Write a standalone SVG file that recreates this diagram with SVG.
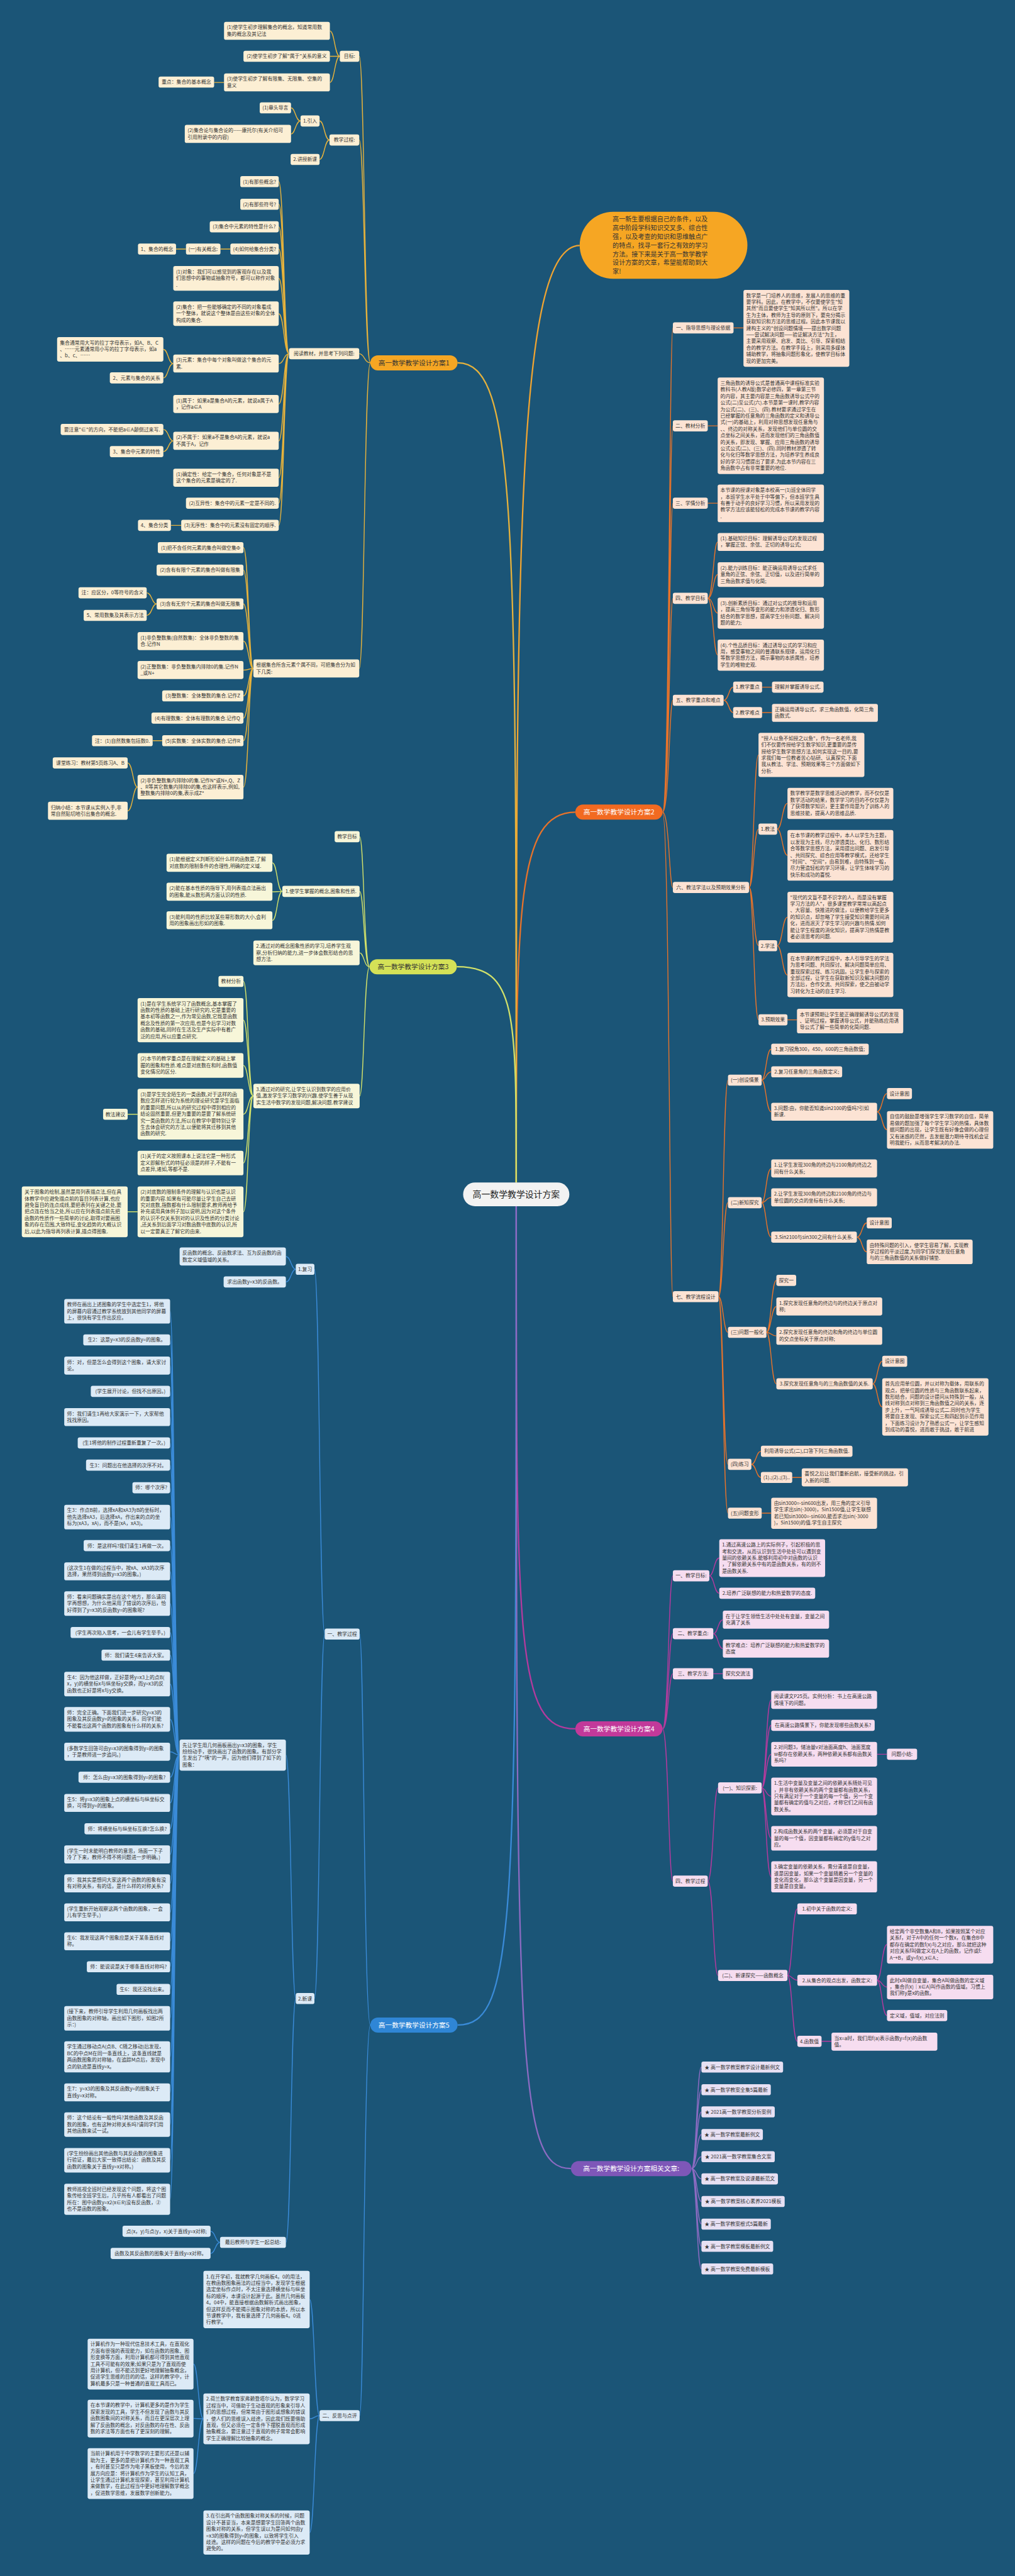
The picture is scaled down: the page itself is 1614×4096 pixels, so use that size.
<svg xmlns="http://www.w3.org/2000/svg" width="1614" height="4096" viewBox="0 0 1614 4096">
<style>
.t{font-family:"Noto Sans CJK SC","Noto Sans",sans-serif;font-size:12.5px;fill:#333}
.c{text-anchor:middle}
.big{font-family:"Noto Sans CJK SC","Noto Sans",sans-serif;font-size:17px;text-anchor:middle}
.o{fill:#FCE3D4}.g{fill:#FCEFD4}.y{fill:#F7F6D9}.b{fill:#DCEAF6}.m{fill:#F6DDF0}.p{fill:#E7E0F3}
.lo,.lg,.ly,.lb,.lm,.lp,.lt{fill:none;stroke-width:2.2}
.lo{stroke:#E8732A}.lg{stroke:#E6B23C}.ly{stroke:#D2E16A}.lb{stroke:#3A8BD8}.lm{stroke:#B53A9E}.lp{stroke:#8C6BC2}.lt{stroke:#F0A431}
.main{stroke-width:3.6}
</style>
<rect x="0" y="0" width="1614" height="4096" fill="#1B5577"/>
<g transform="scale(0.6305)">
<g id="connectors">
<path class="lt main" d="M1302,2982C1302,1400 1302,619 1462,619"/>
<path class="lo main" d="M1302,2982C1302,2300 1302,2048 1451,2048"/>
<path class="lg main" d="M1302,2982C1302,1300 1302,915 1154,915"/>
<path class="ly main" d="M1302,2982C1302,2550 1302,2438 1152,2438"/>
<path class="lm main" d="M1302,3042C1302,4150 1302,4360 1451,4360"/>
<path class="lb main" d="M1302,3042C1302,4850 1302,5107 1154,5107"/>
<path class="lp main" d="M1302,3042C1302,5200 1302,5469 1440,5469"/>
<path class="lo" d="M1671,2048C1688,2048 1688,827 1697,827M1671,2048C1688,2048 1688,1074 1697,1074M1671,2048C1688,2048 1688,1269 1697,1269M1671,2048C1688,2048 1688,1509 1697,1509M1671,2048C1688,2048 1688,1766 1697,1766M1671,2048C1688,2048 1688,2238 1697,2238M1671,2048C1688,2048 1688,3270 1697,3270"/>
<path class="lo" d="M1850,827H1875M1785,1074H1810M1785,1269H1810"/>
<path class="lo" d="M1785,1509C1799,1509 1799,1367 1810,1367M1785,1509C1799,1509 1799,1449 1810,1449M1785,1509C1799,1509 1799,1546 1810,1546M1785,1509C1799,1509 1799,1652 1810,1652"/>
<path class="lo" d="M1825,1766C1838,1766 1838,1733 1849,1733M1825,1766C1838,1766 1838,1797 1849,1797M1922,1733H1947M1922,1797H1947"/>
<path class="lo" d="M1889,2238C1901,2238 1901,1904 1913,1904M1889,2238C1901,2238 1901,2091 1913,2091M1889,2238C1901,2238 1901,2385 1913,2385M1889,2238C1901,2238 1901,2572 1913,2572"/>
<path class="lo" d="M1960,2091C1973,2091 1973,2026 1986,2026M1960,2091C1973,2091 1973,2157 1986,2157M1960,2385C1973,2385 1973,2313 1986,2313M1960,2385C1973,2385 1973,2459 1986,2459M1986,2572H2010"/>
<path class="lo" d="M1812,3270C1824,3270 1824,2724 1836,2724M1812,3270C1824,3270 1824,3033 1836,3033M1812,3270C1824,3270 1824,3360 1836,3360M1812,3270C1824,3270 1824,3693 1836,3693M1812,3270C1824,3270 1824,3816 1836,3816"/>
<path class="lo" d="M1921,2724C1932,2724 1932,2646 1945,2646M1921,2724C1932,2724 1932,2703 1945,2703M1921,2724C1932,2724 1932,2804 1945,2804M2212,2804C2225,2804 2225,2758 2237,2758M2212,2804C2225,2804 2225,2849 2237,2849"/>
<path class="lo" d="M1921,3033C1932,3033 1932,2947 1945,2947M1921,3033C1932,3033 1932,3020 1945,3020M1921,3033C1932,3033 1932,3120 1945,3120M2161,3120C2174,3120 2174,3084 2186,3084M2161,3120C2174,3120 2174,3157 2186,3157"/>
<path class="lo" d="M1933,3360C1945,3360 1945,3229 1958,3229M1933,3360C1945,3360 1945,3295 1958,3295M1933,3360C1945,3360 1945,3369 1958,3369M1933,3360C1945,3360 1945,3490 1958,3490M2201,3490C2213,3490 2213,3433 2225,3433M2201,3490C2213,3490 2213,3548 2225,3548"/>
<path class="lo" d="M1895,3693C1907,3693 1907,3660 1919,3660M1895,3693C1907,3693 1907,3726 1919,3726M1998,3726H2022M1921,3816H1945"/>
<path class="lm" d="M1671,4360C1686,4360 1686,3974 1697,3974M1671,4360C1686,4360 1686,4120 1697,4120M1671,4360C1686,4360 1686,4221 1697,4221M1671,4360C1686,4360 1686,4744 1697,4744"/>
<path class="lm" d="M1789,3974C1801,3974 1801,3929 1814,3929M1789,3974C1801,3974 1801,4018 1814,4018M1799,4120C1811,4120 1811,4085 1823,4085M1799,4120C1811,4120 1811,4158 1823,4158M1799,4221H1823"/>
<path class="lm" d="M1785,4744C1799,4744 1799,4509 1811,4509M1785,4744C1799,4744 1799,4982 1811,4982"/>
<path class="lm" d="M1921,4509C1932,4509 1932,4287 1945,4287M1921,4509C1932,4509 1932,4351 1945,4351M1921,4509C1932,4509 1932,4424 1945,4424M1921,4509C1932,4509 1932,4530 1945,4530M1921,4509C1932,4509 1932,4636 1945,4636M1921,4509C1932,4509 1932,4733 1945,4733M2212,4424H2237"/>
<path class="lm" d="M1986,4982C1998,4982 1998,4814 2011,4814M1986,4982C1998,4982 1998,4994 2011,4994M1986,4982C1998,4982 1998,5148 2011,5148M2212,4994C2224,4994 2224,4904 2237,4904M2212,4994C2224,4994 2224,5011 2237,5011M2212,4994C2224,4994 2224,5083 2237,5083M2072,5148H2097"/>
<path class="lp" d="M1744,5469C1757,5469 1757,5213 1769,5213M1744,5469C1757,5469 1757,5270 1769,5270M1744,5469C1757,5469 1757,5326 1769,5326M1744,5469C1757,5469 1757,5383 1769,5383M1744,5469C1757,5469 1757,5439 1769,5439M1744,5469C1757,5469 1757,5495 1769,5495M1744,5469C1757,5469 1757,5552 1769,5552M1744,5469C1757,5469 1757,5609 1769,5609M1744,5469C1757,5469 1757,5665 1769,5665M1744,5469C1757,5469 1757,5722 1769,5722"/>
<path class="lg" d="M934,915C919,915 919,142 906,142M934,915C919,915 919,353 906,353M934,915C919,915 919,892 906,892M934,915C919,915 919,1686 906,1686"/>
<path class="lg" d="M857,142C844,142 844,78 832,78M857,142C844,142 844,142 832,142M857,142C844,142 844,208 832,208M565,208H540"/>
<path class="lg" d="M831,353C818,353 818,305 806,305M831,353C818,353 818,402 806,402M758,305C745,305 745,272 734,272M758,305C745,305 745,338 734,338"/>
<path class="lg" d="M729,892C716,892 716,458 703,458M729,892C716,892 716,515 703,515M729,892C716,892 716,572 703,572M729,892C716,892 716,628 703,628M729,892C716,892 716,702 703,702M729,892C716,892 716,791 703,791M729,892C716,892 716,917 703,917M729,892C716,892 716,1019 703,1019M729,892C716,892 716,1112 703,1112M729,892C716,892 716,1205 703,1205M729,892C716,892 716,1269 703,1269M729,892C716,892 716,1325 703,1325"/>
<path class="lg" d="M581,628H556M469,628H444M437,917C424,917 424,881 412,881M437,917C424,917 424,953 412,953M437,1112C425,1112 425,1083 412,1083M437,1112C425,1112 425,1139 412,1139M457,1325H431"/>
<path class="lg" d="M639,1686C627,1686 627,1381 614,1381M639,1686C627,1686 627,1438 614,1438M639,1686C627,1686 627,1523 614,1523M639,1686C627,1686 627,1617 614,1617M639,1686C627,1686 627,1690 614,1690M639,1686C627,1686 627,1755 614,1755M639,1686C627,1686 627,1811 614,1811M639,1686C627,1686 627,1868 614,1868M639,1686C627,1686 627,1985 614,1985"/>
<path class="lg" d="M395,1523C383,1523 383,1495 370,1495M395,1523C383,1523 383,1552 370,1552M409,1868H385M347,1985C335,1985 335,1924 322,1924M347,1985C335,1985 335,2045 322,2045"/>
<path class="ly" d="M932,2438C918,2438 918,2110 907,2110M932,2438C918,2438 918,2248 907,2248M932,2438C918,2438 918,2403 907,2403M932,2438C918,2438 918,2764 907,2764"/>
<path class="ly" d="M712,2248C699,2248 699,2176 687,2176M712,2248C699,2248 699,2249 687,2249M712,2248C699,2248 699,2321 687,2321"/>
<path class="ly" d="M639,2764C626,2764 626,2475 614,2475M639,2764C626,2764 626,2573 614,2573M639,2764C626,2764 626,2687 614,2687M639,2764C626,2764 626,2810 614,2810M639,2764C626,2764 626,2933 614,2933M639,2764C626,2764 626,3056 614,3056M347,2810H322M347,3056H322"/>
<path class="lb" d="M934,5107C918,5107 918,4121 907,4121M934,5107C918,5107 918,6092 907,6092"/>
<path class="lb" d="M819,4121C806,4121 806,3201 793,3201M819,4121C806,4121 806,5040 793,5040M746,3201C734,3201 734,3169 721,3169M746,3201C734,3201 734,3233 721,3233M746,5040C734,5040 734,4426 721,4426M746,5040C734,5040 734,5655 721,5655"/>
<path class="lb" d="M453,4426C440,4426 440,3307 429,3307M453,4426C440,4426 440,3379 429,3379M453,4426C440,4426 440,3444 429,3444M453,4426C440,4426 440,3509 429,3509M453,4426C440,4426 440,3574 429,3574M453,4426C440,4426 440,3639 429,3639M453,4426C440,4426 440,3695 429,3695M453,4426C440,4426 440,3752 429,3752M453,4426C440,4426 440,3826 429,3826M453,4426C440,4426 440,3898 429,3898M453,4426C440,4426 440,3963 429,3963M453,4426C440,4426 440,4044 429,4044M453,4426C440,4426 440,4117 429,4117M453,4426C440,4426 440,4174 429,4174M453,4426C440,4426 440,4247 429,4247M453,4426C440,4426 440,4336 429,4336M453,4426C440,4426 440,4418 429,4418M453,4426C440,4426 440,4482 429,4482M453,4426C440,4426 440,4547 429,4547M453,4426C440,4426 440,4612 429,4612M453,4426C440,4426 440,4677 429,4677M453,4426C440,4426 440,4750 429,4750M453,4426C440,4426 440,4823 429,4823M453,4426C440,4426 440,4896 429,4896M453,4426C440,4426 440,4960 429,4960M453,4426C440,4426 440,5017 429,5017M453,4426C440,4426 440,5090 429,5090M453,4426C440,4426 440,5187 429,5187M453,4426C440,4426 440,5277 429,5277M453,4426C440,4426 440,5358 429,5358M453,4426C440,4426 440,5448 429,5448M453,4426C440,4426 440,5546 429,5546"/>
<path class="lb" d="M555,5655C543,5655 543,5627 531,5627M555,5655C543,5655 543,5683 531,5683"/>
<path class="lb" d="M806,6092C793,6092 793,5799 781,5799M806,6092C793,6092 793,6100 781,6100M806,6092C793,6092 793,6387 781,6387M513,6100C500,6100 500,5962 488,5962M513,6100C500,6100 500,6099 488,6099M513,6100C500,6100 500,6238 488,6238"/>
</g>

<g id="center"><rect x="1168" y="2982" width="268" height="60" rx="30" fill="#F2F2F2"/><text x="1302" y="3020" font-family="Noto Sans CJK SC, sans-serif" font-size="22" fill="#222" text-anchor="middle">高一数学教学设计方案</text></g>

<g id="intro"><rect x="1462" y="534" width="423" height="169" rx="84.5" fill="#F6A623"/>
<text font-family="Noto Sans CJK SC, sans-serif" font-size="16" fill="#333"><tspan x="1545" y="558">高一新生要根据自己的条件，以及</tspan><tspan x="1545" dy="22.1">高中阶段学科知识交叉多、综合性</tspan><tspan x="1545" dy="22.1">强，以及考查的知识和思维触点广</tspan><tspan x="1545" dy="22.1">的特点，找寻一套行之有效的学习</tspan><tspan x="1545" dy="22.1">方法。接下来是关于高一数学教学</tspan><tspan x="1545" dy="22.1">设计方案的文章，希望能帮助到大</tspan><tspan x="1545" dy="22.1">家!</tspan></text></g>

<g id="b1"><rect x="934" y="896" width="220" height="38" rx="19" fill="#F5A623"/><text class="big" x="1044" y="921" fill="#333">高一数学教学设计方案1</text></g>
<g id="b2"><rect x="1451" y="2029" width="220" height="38" rx="19" fill="#F26A21"/><text class="big" x="1561" y="2054" fill="#fff">高一数学教学设计方案2</text></g>
<g id="b3"><rect x="932" y="2419" width="220" height="38" rx="19" fill="#D4E157"/><text class="big" x="1042" y="2444" fill="#333">高一数学教学设计方案3</text></g>
<g id="b4"><rect x="1451" y="4341" width="220" height="38" rx="19" fill="#C2399A"/><text class="big" x="1561" y="4366" fill="#fff">高一数学教学设计方案4</text></g>
<g id="b5"><rect x="934" y="5088" width="220" height="38" rx="19" fill="#2F86D6"/><text class="big" x="1044" y="5113" fill="#fff">高一数学教学设计方案5</text></g>
<g id="b6"><rect x="1440" y="5450" width="304" height="38" rx="19" fill="#7E57B8"/><text class="big" x="1592" y="5475" fill="#fff">高一数学教学设计方案相关文章:</text></g>

<g id="a1"><rect class="o" x="1697" y="813" width="153" height="28" rx="5"/><text class="t c" x="1773.5" y="831.5">一、指导思想与理论依据</text></g>
<g id="a1c"><rect class="o" x="1875" y="731" width="267" height="194" rx="5"/><text class="t"><tspan x="1882" y="749.5">数学是一门培养人的思维，发展人的思维的重</tspan><tspan x="1882" dy="16.5">要学科。因此，在教学中，不仅要使学生"知</tspan><tspan x="1882" dy="16.5">其然"而且要使学生"知其所以然"。所以在学</tspan><tspan x="1882" dy="16.5">生为主体，教师为主导的原则下，要充分揭示</tspan><tspan x="1882" dy="16.5">获取知识和方法的思维过程。因此本节课我以</tspan><tspan x="1882" dy="16.5">建构主义的"创设问题情境——提出数学问题</tspan><tspan x="1882" dy="16.5">——尝试解决问题——验证解决方法"为主，</tspan><tspan x="1882" dy="16.5">主要采用观察、启发、类比、引导、探索相结</tspan><tspan x="1882" dy="16.5">合的教学方法。在教学手段上，则采用多媒体</tspan><tspan x="1882" dy="16.5">辅助教学，将抽象问题形象化，使教学目标体</tspan><tspan x="1882" dy="16.5">现的更加完美。</tspan></text></g>
<g id="a2"><rect class="o" x="1697" y="1060" width="88" height="28" rx="5"/><text class="t c" x="1741" y="1078.5">二、教材分析</text></g>
<g id="a2c"><rect class="o" x="1810" y="952" width="268" height="243.5" rx="5"/><text class="t"><tspan x="1817" y="970.5">三角函数的诱导公式是普通高中课程标准实验</tspan><tspan x="1817" dy="16.5">教科书(人教A版)数学必修四，第一章第三节</tspan><tspan x="1817" dy="16.5">的内容，其主要内容是三角函数诱导公式中的</tspan><tspan x="1817" dy="16.5">公式(二)至公式(六).本节是第一课时,教学内容</tspan><tspan x="1817" dy="16.5">为公式(二)、(三)、(四).教材要求通过学生在</tspan><tspan x="1817" dy="16.5">已经掌握的任意角的三角函数的定义和诱导公</tspan><tspan x="1817" dy="16.5">式(一)的基础上，利用对称思想发现任意角与</tspan><tspan x="1817" dy="16.5">、、终边的对称关系，发现他们与单位圆的交</tspan><tspan x="1817" dy="16.5">点坐标之间关系，进而发现他们的三角函数值</tspan><tspan x="1817" dy="16.5">的关系，即发现、掌握、应用三角函数的诱导</tspan><tspan x="1817" dy="16.5">公式公式(二)、(三)、(四).同时教材渗透了转</tspan><tspan x="1817" dy="16.5">化与化归等数学思想方法，为培养学生养成良</tspan><tspan x="1817" dy="16.5">好的学习习惯提出了要求.为此本节内容在三</tspan><tspan x="1817" dy="16.5">角函数中占有非常重要的地位.</tspan></text></g>
<g id="a3"><rect class="o" x="1697" y="1255" width="88" height="28" rx="5"/><text class="t c" x="1741" y="1273.5">三、学情分析</text></g>
<g id="a3c"><rect class="o" x="1810" y="1222" width="268" height="95" rx="5"/><text class="t"><tspan x="1817" y="1240.5">本节课的授课对象是本校高一(1)班全体同学</tspan><tspan x="1817" dy="16.5">，本班学生水平处于中等偏下，但本班学生具</tspan><tspan x="1817" dy="16.5">有善于动手的良好学习习惯，所以采用发现的</tspan><tspan x="1817" dy="16.5">教学方法应该能轻松的完成本节课的教学内容</tspan><tspan x="1817" dy="16.5">.</tspan></text></g>
<g id="a4"><rect class="o" x="1697" y="1495" width="88" height="28" rx="5"/><text class="t c" x="1741" y="1513.5">四、教学目标</text></g>
<g id="a4a"><rect class="o" x="1810" y="1344" width="268" height="45.5" rx="5"/><text class="t"><tspan x="1817" y="1362.5">(1).基础知识目标：理解诱导公式的发现过程</tspan><tspan x="1817" dy="16.5">，掌握正弦、余弦、正切的诱导公式;</tspan></text></g>
<g id="a4b"><rect class="o" x="1810" y="1418" width="268" height="62" rx="5"/><text class="t"><tspan x="1817" y="1436.5">(2).能力训练目标：能正确运用诱导公式求任</tspan><tspan x="1817" dy="16.5">意角的正弦、余弦、正切值，以及进行简单的</tspan><tspan x="1817" dy="16.5">三角函数求值与化简;</tspan></text></g>
<g id="a4c"><rect class="o" x="1810" y="1507" width="268" height="78.5" rx="5"/><text class="t"><tspan x="1817" y="1525.5">(3).创新素质目标：通过对公式的推导和运用</tspan><tspan x="1817" dy="16.5">，提高三角恒等变形的能力和渗透化归、数形</tspan><tspan x="1817" dy="16.5">结合的数学思想，提高学生分析问题、解决问</tspan><tspan x="1817" dy="16.5">题的能力;</tspan></text></g>
<g id="a4d"><rect class="o" x="1810" y="1613" width="268" height="78.5" rx="5"/><text class="t"><tspan x="1817" y="1631.5">(4).个性品质目标：通过诱导公式的学习和应</tspan><tspan x="1817" dy="16.5">用，感受事物之间的普通联系规律，运用化归</tspan><tspan x="1817" dy="16.5">等数学思想方法，揭示事物的本质属性，培养</tspan><tspan x="1817" dy="16.5">学生的唯物史观.</tspan></text></g>
<g id="a5"><rect class="o" x="1697" y="1752" width="128" height="28" rx="5"/><text class="t c" x="1761" y="1770.5">五、教学重点和难点</text></g>
<g id="a5a"><rect class="o" x="1849" y="1719" width="73" height="28" rx="5"/><text class="t c" x="1885.5" y="1737.5">1.教学重点</text></g>
<g id="a5a1"><rect class="o" x="1947" y="1719" width="130" height="28" rx="5"/><text class="t c" x="2012" y="1737.5">理解并掌握诱导公式.</text></g>
<g id="a5b"><rect class="o" x="1849" y="1783" width="73" height="28" rx="5"/><text class="t c" x="1885.5" y="1801.5">2.教学难点</text></g>
<g id="a5b1"><rect class="o" x="1947" y="1775" width="267" height="45.5" rx="5"/><text class="t"><tspan x="1954" y="1793.5">正确运用诱导公式，求三角函数值，化简三角</tspan><tspan x="1954" dy="16.5">函数式.</tspan></text></g>
<g id="a6"><rect class="o" x="1697" y="2224" width="192" height="28" rx="5"/><text class="t c" x="1793" y="2242.5">六、教法学法以及预期效果分析</text></g>
<g id="a6a"><rect class="o" x="1913" y="1848" width="267" height="111.5" rx="5"/><text class="t"><tspan x="1920" y="1866.5">"授人以鱼不如授之以鱼"，作为一名老师,我</tspan><tspan x="1920" dy="16.5">们不仅要传授给学生数学知识,更重要的是传</tspan><tspan x="1920" dy="16.5">授给学生数学思想方法,如何实现这一目的,要</tspan><tspan x="1920" dy="16.5">求我们每一位教者苦心钻研、认真探究.下面</tspan><tspan x="1920" dy="16.5">我从教法、学法、预期效果等三个方面做如下</tspan><tspan x="1920" dy="16.5">分析.</tspan></text></g>
<g id="a6b"><rect class="o" x="1913" y="2077" width="47" height="28" rx="5"/><text class="t c" x="1936.5" y="2095.5">1.教法</text></g>
<g id="a6b1"><rect class="o" x="1986" y="1987" width="267" height="78.5" rx="5"/><text class="t"><tspan x="1993" y="2005.5">数学教学是数学思维活动的教学，而不仅仅是</tspan><tspan x="1993" dy="16.5">数学活动的结果，数学学习的目的不仅仅是为</tspan><tspan x="1993" dy="16.5">了获得数学知识，更主要作用是为了训练人的</tspan><tspan x="1993" dy="16.5">思维技能，提高人的思维品质.</tspan></text></g>
<g id="a6b2"><rect class="o" x="1986" y="2093" width="267" height="128" rx="5"/><text class="t"><tspan x="1993" y="2111.5">在本节课的教学过程中，本人以学生为主题，</tspan><tspan x="1993" dy="16.5">以发现为主线，尽力渗透类比、化归、数形结</tspan><tspan x="1993" dy="16.5">合等数学思想方法，采用提出问题、启发引导</tspan><tspan x="1993" dy="16.5">、共同探究、综合应用等教学模式，还给学生</tspan><tspan x="1993" dy="16.5">"时间"、"空间"，由易到难，由特殊到一般，</tspan><tspan x="1993" dy="16.5">尽力营造轻松的学习环境，让学生体味学习的</tspan><tspan x="1993" dy="16.5">快乐和成功的喜悦.</tspan></text></g>
<g id="a6c"><rect class="o" x="1913" y="2371" width="47" height="28" rx="5"/><text class="t c" x="1936.5" y="2389.5">2.学法</text></g>
<g id="a6c1"><rect class="o" x="1986" y="2249" width="267" height="128" rx="5"/><text class="t"><tspan x="1993" y="2267.5">"现代的文盲不是不识字的人，而是没有掌握</tspan><tspan x="1993" dy="16.5">学习方法的人"，很多课堂教学常常以高起点</tspan><tspan x="1993" dy="16.5">、大容量、快推进的做法，以便教给学生更多</tspan><tspan x="1993" dy="16.5">的知识点，却忽略了学生接受知识需要时间消</tspan><tspan x="1993" dy="16.5">化，进而泯灭了学生学习的兴趣与热情.如何</tspan><tspan x="1993" dy="16.5">能让学生程度的消化知识，提高学习热情是教</tspan><tspan x="1993" dy="16.5">者必须思考的问题.</tspan></text></g>
<g id="a6c2"><rect class="o" x="1986" y="2403" width="267" height="111.5" rx="5"/><text class="t"><tspan x="1993" y="2421.5">在本节课的教学过程中，本人引导学生的学法</tspan><tspan x="1993" dy="16.5">为思考问题、共同探讨、解决问题简单应用、</tspan><tspan x="1993" dy="16.5">重现探索过程、练习巩固。让学生参与探索的</tspan><tspan x="1993" dy="16.5">全部过程，让学生在获取新知识及解决问题的</tspan><tspan x="1993" dy="16.5">方法后，合作交流、共同探索，使之由被动学</tspan><tspan x="1993" dy="16.5">习转化为主动的自主学习.</tspan></text></g>
<g id="a6d"><rect class="o" x="1913" y="2558" width="73" height="28" rx="5"/><text class="t c" x="1949.5" y="2576.5">3.预期效果</text></g>
<g id="a6d1"><rect class="o" x="2010" y="2544" width="268" height="62" rx="5"/><text class="t"><tspan x="2017" y="2562.5">本节课预期让学生能正确理解诱导公式的发现</tspan><tspan x="2017" dy="16.5">、证明过程，掌握诱导公式，并能熟练应用诱</tspan><tspan x="2017" dy="16.5">导公式了解一些简单的化简问题.</tspan></text></g>
<g id="a7"><rect class="o" x="1697" y="3256" width="115" height="28" rx="5"/><text class="t c" x="1754.5" y="3274.5">七、教学流程设计</text></g>
<g id="b1n"><rect class="o" x="1836" y="2710" width="85" height="28" rx="5"/><text class="t c" x="1878.5" y="2728.5">(一)创设情景</text></g>
<g id="b1a"><rect class="o" x="1945" y="2632" width="246" height="28" rx="5"/><text class="t c" x="2068" y="2650.5">1.复习锐角300，450，600的三角函数值;</text></g>
<g id="b1b"><rect class="o" x="1945" y="2689" width="179" height="28" rx="5"/><text class="t c" x="2034.5" y="2707.5">2.复习任意角的三角函数定义;</text></g>
<g id="b1c"><rect class="o" x="1945" y="2781" width="267" height="45.5" rx="5"/><text class="t"><tspan x="1952" y="2799.5">3.问题:由，你能否知道sin2100的值吗?引如</tspan><tspan x="1952" dy="16.5">新课.</tspan></text></g>
<g id="b1c1"><rect class="o" x="2237" y="2744" width="63" height="28" rx="5"/><text class="t c" x="2268.5" y="2762.5">设计意图</text></g>
<g id="b1c2"><rect class="o" x="2237" y="2802" width="268" height="95" rx="5"/><text class="t"><tspan x="2244" y="2820.5">自信的鼓励是增强学生学习数学的自信，简单</tspan><tspan x="2244" dy="16.5">易做的题加强了每个学生学习的热情，具体数</tspan><tspan x="2244" dy="16.5">据问题的出现，让学生既有好像会做的心理但</tspan><tspan x="2244" dy="16.5">又有迷惑的茫然，去发掘潜力期待寻找机会证</tspan><tspan x="2244" dy="16.5">明我能行，从而思考解决的办法.</tspan></text></g>
<g id="b2n"><rect class="o" x="1836" y="3019" width="85" height="28" rx="5"/><text class="t c" x="1878.5" y="3037.5">(二)新知探究</text></g>
<g id="b2a"><rect class="o" x="1945" y="2924" width="267" height="45.5" rx="5"/><text class="t"><tspan x="1952" y="2942.5">1.让学生发现300角的终边与2100角的终边之</tspan><tspan x="1952" dy="16.5">间有什么关系;</tspan></text></g>
<g id="b2b"><rect class="o" x="1945" y="2997" width="267" height="45.5" rx="5"/><text class="t"><tspan x="1952" y="3015.5">2.让学生发现300角的终边和2100角的终边与</tspan><tspan x="1952" dy="16.5">单位圆的交点的坐标有什么关系;</tspan></text></g>
<g id="b2c"><rect class="o" x="1945" y="3106" width="216" height="28" rx="5"/><text class="t c" x="2053" y="3124.5">3.Sin2100与sin300之间有什么关系.</text></g>
<g id="b2c1"><rect class="o" x="2186" y="3070" width="63" height="28" rx="5"/><text class="t c" x="2217.5" y="3088.5">设计意图</text></g>
<g id="b2c2"><rect class="o" x="2186" y="3126" width="267" height="62" rx="5"/><text class="t"><tspan x="2193" y="3144.5">由特殊问题的引入，使学生容易了解，实现教</tspan><tspan x="2193" dy="16.5">学过程的平淡过度,为同学们探究发现任意角</tspan><tspan x="2193" dy="16.5">与的三角函数值的关系做好铺垫.</tspan></text></g>
<g id="b3n"><rect class="o" x="1836" y="3346" width="97" height="28" rx="5"/><text class="t c" x="1884.5" y="3364.5">(三)问题一般化</text></g>
<g id="b3a"><rect class="o" x="1958" y="3215" width="50" height="28" rx="5"/><text class="t c" x="1983" y="3233.5">探究一</text></g>
<g id="b3b"><rect class="o" x="1958" y="3272" width="267" height="45.5" rx="5"/><text class="t"><tspan x="1965" y="3290.5">1.探究发现任意角的终边与的终边关于原点对</tspan><tspan x="1965" dy="16.5">称;</tspan></text></g>
<g id="b3c"><rect class="o" x="1958" y="3346" width="267" height="45.5" rx="5"/><text class="t"><tspan x="1965" y="3364.5">2.探究发现任意角的终边和角的终边与单位圆</tspan><tspan x="1965" dy="16.5">的交点坐标关于原点对称;</tspan></text></g>
<g id="b3d"><rect class="o" x="1958" y="3476" width="243" height="28" rx="5"/><text class="t c" x="2079.5" y="3494.5">3.探究发现任意角与的三角函数值的关系.</text></g>
<g id="b3d1"><rect class="o" x="2225" y="3419" width="63" height="28" rx="5"/><text class="t c" x="2256.5" y="3437.5">设计意图</text></g>
<g id="b3d2"><rect class="o" x="2225" y="3476" width="268" height="144.5" rx="5"/><text class="t"><tspan x="2232" y="3494.5">首先应用单位圆，并以对称为载体，用联系的</tspan><tspan x="2232" dy="16.5">观点，把单位圆的性质与三角函数联系起来，</tspan><tspan x="2232" dy="16.5">数形结合，问题的设计提问从特殊到一般，从</tspan><tspan x="2232" dy="16.5">线对称到点对称到三角函数值之间的关系，逐</tspan><tspan x="2232" dy="16.5">步上升，一气呵成诱导公式二.同时也为学生</tspan><tspan x="2232" dy="16.5">将要自主发现、探索公式三和四起到示范作用</tspan><tspan x="2232" dy="16.5">，下面练习设计为了熟悉公式一，让学生感知</tspan><tspan x="2232" dy="16.5">到成功的喜悦，进而敢于挑战，敢于前进</tspan></text></g>
<g id="b4n"><rect class="o" x="1836" y="3679" width="59" height="28" rx="5"/><text class="t c" x="1865.5" y="3697.5">(四)练习</text></g>
<g id="b4a"><rect class="o" x="1919" y="3646" width="231" height="28" rx="5"/><text class="t c" x="2034.5" y="3664.5">利用诱导公式(二),口答下列三角函数值.</text></g>
<g id="b4b"><rect class="o" x="1919" y="3712" width="79" height="28" rx="5"/><text class="t c" x="1958.5" y="3730.5">(1).;(2).;(3)..</text></g>
<g id="b4b1"><rect class="o" x="2022" y="3703" width="268" height="45.5" rx="5"/><text class="t"><tspan x="2029" y="3721.5">喜悦之后让我们重新启航，接受新的挑战，引</tspan><tspan x="2029" dy="16.5">入新的问题.</tspan></text></g>
<g id="b5n"><rect class="o" x="1836" y="3802" width="85" height="28" rx="5"/><text class="t c" x="1878.5" y="3820.5">(五)问题变形</text></g>
<g id="b5a"><rect class="o" x="1945" y="3777" width="267" height="78.5" rx="5"/><text class="t"><tspan x="1952" y="3795.5">由sin3000=-sin600出发，用三角的定义引导</tspan><tspan x="1952" dy="16.5">学生求出sin(-3000)，Sin1500值,让学生联想</tspan><tspan x="1952" dy="16.5">若已知sin3000=-sin600,能否求出sin(-3000</tspan><tspan x="1952" dy="16.5">)，Sin1500)的值.学生自主探究</tspan></text></g>

<g id="c1"><rect class="m" x="1697" y="3960" width="92" height="28" rx="5"/><text class="t c" x="1743" y="3978.5">一、教学目标:</text></g>
<g id="c1a"><rect class="m" x="1814" y="3882" width="267" height="95" rx="5"/><text class="t"><tspan x="1821" y="3900.5">1.通过高速公路上的实际例子，引起积极的思</tspan><tspan x="1821" dy="16.5">考和交流，从而认识到生活中处处可以遇到变</tspan><tspan x="1821" dy="16.5">量间的依赖关系.能够利用初中对函数的认识</tspan><tspan x="1821" dy="16.5">，了解依赖关系中有的是函数关系，有的则不</tspan><tspan x="1821" dy="16.5">是函数关系.</tspan></text></g>
<g id="c1b"><rect class="m" x="1814" y="4004" width="242" height="28" rx="5"/><text class="t c" x="1935" y="4022.5">2.培养广泛联想的能力和热爱数学的态度.</text></g>
<g id="c2"><rect class="m" x="1697" y="4106" width="102" height="28" rx="5"/><text class="t c" x="1748" y="4124.5">二、教学重点:</text></g>
<g id="c2a"><rect class="m" x="1823" y="4062" width="268" height="45.5" rx="5"/><text class="t"><tspan x="1830" y="4080.5">在于让学生领悟生活中处处有变量，变量之间</tspan><tspan x="1830" dy="16.5">充满了关系</tspan></text></g>
<g id="c2b"><rect class="m" x="1823" y="4135" width="268" height="45.5" rx="5"/><text class="t"><tspan x="1830" y="4153.5">教学难点：培养广泛联想的能力和热爱数学的</tspan><tspan x="1830" dy="16.5">态度</tspan></text></g>
<g id="c3"><rect class="m" x="1697" y="4207" width="102" height="28" rx="5"/><text class="t c" x="1748" y="4225.5">三、教学方法:</text></g>
<g id="c3a"><rect class="m" x="1823" y="4207" width="76" height="28" rx="5"/><text class="t c" x="1861" y="4225.5">探究交流法</text></g>
<g id="c4"><rect class="m" x="1697" y="4730" width="88" height="28" rx="5"/><text class="t c" x="1741" y="4748.5">四、教学过程</text></g>
<g id="d1"><rect class="m" x="1811" y="4495" width="110" height="28" rx="5"/><text class="t c" x="1866" y="4513.5">(一)、知识探索:</text></g>
<g id="d1a"><rect class="m" x="1945" y="4264" width="267" height="45.5" rx="5"/><text class="t"><tspan x="1952" y="4282.5">阅读课文P25页。实例分析：书上在高速公路</tspan><tspan x="1952" dy="16.5">情境下的问题。</tspan></text></g>
<g id="d1b"><rect class="m" x="1945" y="4337" width="261" height="28" rx="5"/><text class="t c" x="2075.5" y="4355.5">在高速公路情景下，你能发现哪些函数关系?</text></g>
<g id="d1c"><rect class="m" x="1945" y="4393" width="267" height="62" rx="5"/><text class="t"><tspan x="1952" y="4411.5">2.对问题3，储油量v对油面高度h、油面宽度</tspan><tspan x="1952" dy="16.5">w都存在依赖关系，两种依赖关系都有函数关</tspan><tspan x="1952" dy="16.5">系吗?</tspan></text></g>
<g id="d1c1"><rect class="m" x="2237" y="4410" width="76" height="28" rx="5"/><text class="t c" x="2275" y="4428.5">问题小结:</text></g>
<g id="d1d"><rect class="m" x="1945" y="4483" width="267" height="95" rx="5"/><text class="t"><tspan x="1952" y="4501.5">1.生活中变量及变量之间的依赖关系随处可见</tspan><tspan x="1952" dy="16.5">，并非有依赖关系的两个变量都有函数关系，</tspan><tspan x="1952" dy="16.5">只有满足对于一个变量的每一个值，另一个变</tspan><tspan x="1952" dy="16.5">量都有确定的值与之对应，才称它们之间有函</tspan><tspan x="1952" dy="16.5">数关系。</tspan></text></g>
<g id="d1e"><rect class="m" x="1945" y="4605" width="267" height="62" rx="5"/><text class="t"><tspan x="1952" y="4623.5">2.构成函数关系的两个变量，必须是对于自变</tspan><tspan x="1952" dy="16.5">量的每一个值，因变量都有确定的y值与之对</tspan><tspan x="1952" dy="16.5">应。</tspan></text></g>
<g id="d1f"><rect class="m" x="1945" y="4694" width="267" height="78.5" rx="5"/><text class="t"><tspan x="1952" y="4712.5">3.确定变量的依赖关系，需分清谁是自变量，</tspan><tspan x="1952" dy="16.5">谁是因变量，如果一个变量随着另一个变量的</tspan><tspan x="1952" dy="16.5">变化而变化，那么这个变量是因变量，另一个</tspan><tspan x="1952" dy="16.5">变量是自变量。</tspan></text></g>
<g id="d2"><rect class="m" x="1811" y="4968" width="175" height="28" rx="5"/><text class="t c" x="1898.5" y="4986.5">(二)、新课探究——函数概念</text></g>
<g id="d2a"><rect class="m" x="2011" y="4800" width="150" height="28" rx="5"/><text class="t c" x="2086" y="4818.5">1.初中关于函数的定义:</text></g>
<g id="d2b"><rect class="m" x="2011" y="4980" width="201" height="28" rx="5"/><text class="t c" x="2111.5" y="4998.5">2.从集合的观点出发，函数定义:</text></g>
<g id="d2b1"><rect class="m" x="2237" y="4857" width="268" height="95" rx="5"/><text class="t"><tspan x="2244" y="4875.5">给定两个非空数集A和B，如果按照某个对应</tspan><tspan x="2244" dy="16.5">关系f，对于A中的任何一个数x，在集合B中</tspan><tspan x="2244" dy="16.5">都存在确定的数f(x)与之对应，那么就把这种</tspan><tspan x="2244" dy="16.5">对应关系f叫做定义在A上的函数，记作或f:</tspan><tspan x="2244" dy="16.5">A→B，或y=f(x),x∈A.;</tspan></text></g>
<g id="d2b2"><rect class="m" x="2237" y="4980" width="268" height="62" rx="5"/><text class="t"><tspan x="2244" y="4998.5">此时x叫做自变量，集合A叫做函数的定义域</tspan><tspan x="2244" dy="16.5">，集合{f(x)｜x∈A}叫作函数的值域。习惯上</tspan><tspan x="2244" dy="16.5">我们称y是x的函数。</tspan></text></g>
<g id="d2b3"><rect class="m" x="2237" y="5069" width="152" height="28" rx="5"/><text class="t c" x="2313" y="5087.5">定义域，值域，对应法则</text></g>
<g id="d2c"><rect class="m" x="2011" y="5134" width="61" height="28" rx="5"/><text class="t c" x="2041.5" y="5152.5">4.函数值</text></g>
<g id="d2c1"><rect class="m" x="2097" y="5126" width="267" height="45.5" rx="5"/><text class="t"><tspan x="2104" y="5144.5">当x=a时，我们用f(a)表示函数y=f(x)的函数</tspan><tspan x="2104" dy="16.5">值。</tspan></text></g>

<g id="r1"><rect class="p" x="1769" y="5199" width="206" height="28" rx="5"/><text class="t c" x="1872" y="5217.5">★ 高一数学教案教学设计最新例文</text></g>
<g id="r2"><rect class="p" x="1769" y="5256" width="175" height="28" rx="5"/><text class="t c" x="1856.5" y="5274.5">★ 高一数学教案全集5篇最新</text></g>
<g id="r3"><rect class="p" x="1769" y="5312" width="185" height="28" rx="5"/><text class="t c" x="1861.5" y="5330.5">★ 2021高一数学教案分析案例</text></g>
<g id="r4"><rect class="p" x="1769" y="5369" width="155" height="28" rx="5"/><text class="t c" x="1846.5" y="5387.5">★ 高一数学教案最新例文</text></g>
<g id="r5"><rect class="p" x="1769" y="5425" width="185" height="28" rx="5"/><text class="t c" x="1861.5" y="5443.5">★ 2021高一数学教案集合文案</text></g>
<g id="r6"><rect class="p" x="1769" y="5481" width="193" height="28" rx="5"/><text class="t c" x="1865.5" y="5499.5">★ 高一数学教案及说课最新范文</text></g>
<g id="r7"><rect class="p" x="1769" y="5538" width="210" height="28" rx="5"/><text class="t c" x="1874" y="5556.5">★ 高一数学教案核心素养2021模板</text></g>
<g id="r8"><rect class="p" x="1769" y="5595" width="175" height="28" rx="5"/><text class="t c" x="1856.5" y="5613.5">★ 高一数学教案根式5篇最新</text></g>
<g id="r9"><rect class="p" x="1769" y="5651" width="181" height="28" rx="5"/><text class="t c" x="1859.5" y="5669.5">★ 高一数学教案模板最新例文</text></g>
<g id="r10"><rect class="p" x="1769" y="5708" width="181" height="28" rx="5"/><text class="t c" x="1859.5" y="5726.5">★ 高一数学教案免费最新模板</text></g>

<g id="e1"><rect class="g" x="857" y="128" width="49" height="28" rx="5"/><text class="t c" x="881.5" y="146.5">目标:</text></g>
<g id="e1a"><rect class="g" x="565" y="55" width="267" height="45.5" rx="5"/><text class="t"><tspan x="572" y="73.5">(1)使学生初步理解集合的概念，知道常用数</tspan><tspan x="572" dy="16.5">集的概念及其记法</tspan></text></g>
<g id="e1b"><rect class="g" x="614" y="128" width="218" height="28" rx="5"/><text class="t c" x="723" y="146.5">(2)使学生初步了解"属于"关系的意义</text></g>
<g id="e1c"><rect class="g" x="565" y="185" width="267" height="45.5" rx="5"/><text class="t"><tspan x="572" y="203.5">(3)使学生初步了解有限集、无限集、空集的</tspan><tspan x="572" dy="16.5">意义</tspan></text></g>
<g id="e1c1"><rect class="g" x="400" y="193" width="140" height="28" rx="5"/><text class="t c" x="470" y="211.5">重点：集合的基本概念</text></g>
<g id="e2"><rect class="g" x="831" y="339" width="75" height="28" rx="5"/><text class="t c" x="868.5" y="357.5">教学过程:</text></g>
<g id="e2a"><rect class="g" x="758" y="291" width="48" height="28" rx="5"/><text class="t c" x="782" y="309.5">1.引入</text></g>
<g id="e2a1"><rect class="g" x="655" y="258" width="79" height="28" rx="5"/><text class="t c" x="694.5" y="276.5">(1)章头导言</text></g>
<g id="e2a2"><rect class="g" x="466" y="315" width="268" height="45.5" rx="5"/><text class="t"><tspan x="473" y="333.5">(2)集合论与集合论的-----康托尔(有关介绍可</tspan><tspan x="473" dy="16.5">引用附录中的内容)</tspan></text></g>
<g id="e2b"><rect class="g" x="733" y="388" width="73" height="28" rx="5"/><text class="t c" x="769.5" y="406.5">2.讲授新课</text></g>
<g id="e3"><rect class="g" x="729" y="878" width="177" height="28" rx="5"/><text class="t c" x="817.5" y="896.5">阅读教材，并思考下列问题:</text></g>
<g id="f1"><rect class="g" x="606" y="444" width="97" height="28" rx="5"/><text class="t c" x="654.5" y="462.5">(1)有那些概念?</text></g>
<g id="f2"><rect class="g" x="606" y="501" width="97" height="28" rx="5"/><text class="t c" x="654.5" y="519.5">(2)有那些符号?</text></g>
<g id="f3"><rect class="g" x="529" y="558" width="174" height="28" rx="5"/><text class="t c" x="616" y="576.5">(3)集合中元素的特性是什么?</text></g>
<g id="f4"><rect class="g" x="581" y="614" width="122" height="28" rx="5"/><text class="t c" x="642" y="632.5">(4)如何给集合分类?</text></g>
<g id="f4a"><rect class="g" x="469" y="614" width="87" height="28" rx="5"/><text class="t c" x="512.5" y="632.5">(一)有关概念:</text></g>
<g id="f4b"><rect class="g" x="348" y="614" width="96" height="28" rx="5"/><text class="t c" x="396" y="632.5">1、集合的概念</text></g>
<g id="f5"><rect class="g" x="437" y="671" width="266" height="62" rx="5"/><text class="t"><tspan x="444" y="689.5">(1)对象：我们可以感觉到的客观存在以及我</tspan><tspan x="444" dy="16.5">们思想中的事物或抽象符号，都可以称作对象</tspan><tspan x="444" dy="16.5">.</tspan></text></g>
<g id="f6"><rect class="g" x="437" y="760" width="266" height="62" rx="5"/><text class="t"><tspan x="444" y="778.5">(2)集合：把一些能够确定的不同的对象看成</tspan><tspan x="444" dy="16.5">一个整体，就说这个整体是由这些对象的全体</tspan><tspan x="444" dy="16.5">构成的集合.</tspan></text></g>
<g id="f7"><rect class="g" x="437" y="894" width="266" height="45.5" rx="5"/><text class="t"><tspan x="444" y="912.5">(3)元素：集合中每个对象叫做这个集合的元</tspan><tspan x="444" dy="16.5">素.</tspan></text></g>
<g id="f7a"><rect class="g" x="144" y="850" width="268" height="62" rx="5"/><text class="t"><tspan x="151" y="868.5">集合通常用大写的拉丁字母表示，如A、B、C</tspan><tspan x="151" dy="16.5">、……元素通常用小写的拉丁字母表示，如a</tspan><tspan x="151" dy="16.5">、b、c、……</tspan></text></g>
<g id="f7b"><rect class="g" x="277" y="939" width="135" height="28" rx="5"/><text class="t c" x="344.5" y="957.5">2、元素与集合的关系</text></g>
<g id="f8"><rect class="g" x="437" y="996" width="266" height="45.5" rx="5"/><text class="t"><tspan x="444" y="1014.5">(1)属于：如果a是集合A的元素，就说a属于A</tspan><tspan x="444" dy="16.5">，记作a∈A</tspan></text></g>
<g id="f9"><rect class="g" x="437" y="1089" width="266" height="45.5" rx="5"/><text class="t"><tspan x="444" y="1107.5">(2)不属于：如果a不是集合A的元素，就说a</tspan><tspan x="444" dy="16.5">不属于A，记作</tspan></text></g>
<g id="f9a"><rect class="g" x="153" y="1069" width="259" height="28" rx="5"/><text class="t c" x="282.5" y="1087.5">要注意"∈"的方向，不能把a∈A颠倒过来写.</text></g>
<g id="f9b"><rect class="g" x="277" y="1125" width="135" height="28" rx="5"/><text class="t c" x="344.5" y="1143.5">3、集合中元素的特性</text></g>
<g id="f10"><rect class="g" x="437" y="1182" width="266" height="45.5" rx="5"/><text class="t"><tspan x="444" y="1200.5">(1)确定性：给定一个集合，任何对象是不是</tspan><tspan x="444" dy="16.5">这个集合的元素是确定的了.</tspan></text></g>
<g id="f11"><rect class="g" x="469" y="1255" width="234" height="28" rx="5"/><text class="t c" x="586" y="1273.5">(2)互异性：集合中的元素一定是不同的.</text></g>
<g id="f12"><rect class="g" x="457" y="1311" width="246" height="28" rx="5"/><text class="t c" x="580" y="1329.5">(3)无序性：集合中的元素没有固定的顺序.</text></g>
<g id="f12a"><rect class="g" x="348" y="1311" width="83" height="28" rx="5"/><text class="t c" x="389.5" y="1329.5">4、集合分类</text></g>
<g id="e4"><rect class="g" x="639" y="1663" width="267" height="45.5" rx="5"/><text class="t"><tspan x="646" y="1681.5">根据集合所含元素个属不同，可把集合分为如</tspan><tspan x="646" dy="16.5">下几类:</tspan></text></g>
<g id="g1"><rect class="g" x="398" y="1367" width="216" height="28" rx="5"/><text class="t c" x="506" y="1385.5">(1)把不含任何元素的集合叫做空集Φ</text></g>
<g id="g2"><rect class="g" x="395" y="1424" width="219" height="28" rx="5"/><text class="t c" x="504.5" y="1442.5">(2)含有有限个元素的集合叫做有限集</text></g>
<g id="g3"><rect class="g" x="395" y="1509" width="219" height="28" rx="5"/><text class="t c" x="504.5" y="1527.5">(3)含有无穷个元素的集合叫做无限集</text></g>
<g id="g3a"><rect class="g" x="198" y="1481" width="172" height="28" rx="5"/><text class="t c" x="284" y="1499.5">注：应区分，0等符号的含义</text></g>
<g id="g3b"><rect class="g" x="211" y="1538" width="159" height="28" rx="5"/><text class="t c" x="290.5" y="1556.5">5、常用数集及其表示方法</text></g>
<g id="g4"><rect class="g" x="347" y="1594" width="267" height="45.5" rx="5"/><text class="t"><tspan x="354" y="1612.5">(1)非负整数集(自然数集)：全体非负整数的集</tspan><tspan x="354" dy="16.5">合.记作N</tspan></text></g>
<g id="g5"><rect class="g" x="347" y="1667" width="267" height="45.5" rx="5"/><text class="t"><tspan x="354" y="1685.5">(2)正整数集：非负整数集内排除0的集.记作N</tspan><tspan x="354" dy="16.5">_或N+</tspan></text></g>
<g id="g6"><rect class="g" x="409" y="1741" width="205" height="28" rx="5"/><text class="t c" x="511.5" y="1759.5">(3)整数集：全体整数的集合.记作Z</text></g>
<g id="g7"><rect class="g" x="382" y="1797" width="232" height="28" rx="5"/><text class="t c" x="498" y="1815.5">(4)有理数集：全体有理数的集合.记作Q</text></g>
<g id="g8"><rect class="g" x="409" y="1854" width="205" height="28" rx="5"/><text class="t c" x="511.5" y="1872.5">(5)实数集：全体实数的集合.记作R</text></g>
<g id="g8a"><rect class="g" x="232" y="1854" width="153" height="28" rx="5"/><text class="t c" x="308.5" y="1872.5">注：(1)自然数集包括数0.</text></g>
<g id="g9"><rect class="g" x="347" y="1954" width="267" height="62" rx="5"/><text class="t"><tspan x="354" y="1972.5">(2)非负整数集内排除0的集.记作N*或N+,Q、Z</tspan><tspan x="354" dy="16.5">、R等其它数集内排除0的集,也这样表示,例如,</tspan><tspan x="354" dy="16.5">整数集内排除0的集,表示成Z*</tspan></text></g>
<g id="g9a"><rect class="g" x="133" y="1910" width="189" height="28" rx="5"/><text class="t c" x="227.5" y="1928.5">课堂练习：教材第5页练习A、B</text></g>
<g id="g9b"><rect class="g" x="121" y="2022" width="201" height="45.5" rx="5"/><text class="t"><tspan x="128" y="2040.5">归纳小结：本节课从实例入手,非</tspan><tspan x="128" dy="16.5">常自然贴切地引出集合的概念.</tspan></text></g>

<g id="h1"><rect class="y" x="844" y="2096" width="63" height="28" rx="5"/><text class="t c" x="875.5" y="2114.5">教学目标</text></g>
<g id="h2"><rect class="y" x="712" y="2234" width="195" height="28" rx="5"/><text class="t c" x="809.5" y="2252.5">1.使学生掌握的概念,图象和性质.</text></g>
<g id="h2a"><rect class="y" x="420" y="2153" width="267" height="45.5" rx="5"/><text class="t"><tspan x="427" y="2171.5">(1)能根据定义判断形如什么样的函数是,了解</tspan><tspan x="427" dy="16.5">对底数的限制条件的合理性,明确的定义域.</tspan></text></g>
<g id="h2b"><rect class="y" x="420" y="2226" width="267" height="45.5" rx="5"/><text class="t"><tspan x="427" y="2244.5">(2)能在基本性质的指导下,用列表描点法画出</tspan><tspan x="427" dy="16.5">的图象,能从数形两方面认识的性质.</tspan></text></g>
<g id="h2c"><rect class="y" x="420" y="2298" width="267" height="45.5" rx="5"/><text class="t"><tspan x="427" y="2316.5">(3)能利用的性质比较某些幂形数的大小,会利</tspan><tspan x="427" dy="16.5">用的图象画出形如的图象.</tspan></text></g>
<g id="h3"><rect class="y" x="639" y="2372" width="268" height="62" rx="5"/><text class="t"><tspan x="646" y="2390.5">2.通过对的概念图象性质的学习,培养学生观</tspan><tspan x="646" dy="16.5">察,分析归纳的能力,进一步体会数形结合的思</tspan><tspan x="646" dy="16.5">想方法.</tspan></text></g>
<g id="h4"><rect class="y" x="639" y="2733" width="268" height="62" rx="5"/><text class="t"><tspan x="646" y="2751.5">3.通过对的研究,让学生认识到数学的应用价</tspan><tspan x="646" dy="16.5">值,激发学生学习数学的兴趣.使学生善于从现</tspan><tspan x="646" dy="16.5">实生活中数学的发现问题,解决问题.教学建议</tspan></text></g>
<g id="h4a"><rect class="y" x="551" y="2461" width="63" height="28" rx="5"/><text class="t c" x="582.5" y="2479.5">教材分析</text></g>
<g id="h4b"><rect class="y" x="347" y="2517" width="267" height="111.5" rx="5"/><text class="t"><tspan x="354" y="2535.5">(1)是在学生系统学习了函数概念,基本掌握了</tspan><tspan x="354" dy="16.5">函数的性质的基础上进行研究的,它是重要的</tspan><tspan x="354" dy="16.5">基本初等函数之一,作为常见函数,它既是函数</tspan><tspan x="354" dy="16.5">概念及性质的第一次应用,也是今后学习对数</tspan><tspan x="354" dy="16.5">函数的基础,同时在生活及生产实际中有着广</tspan><tspan x="354" dy="16.5">泛的应用,所以应重点研究.</tspan></text></g>
<g id="h4c"><rect class="y" x="347" y="2656" width="267" height="62" rx="5"/><text class="t"><tspan x="354" y="2674.5">(2)本节的教学重点是在理解定义的基础上掌</tspan><tspan x="354" dy="16.5">握的图象和性质.难点是对底数在和时,函数值</tspan><tspan x="354" dy="16.5">变化情况的区分.</tspan></text></g>
<g id="h4d"><rect class="y" x="347" y="2746" width="267" height="128" rx="5"/><text class="t"><tspan x="354" y="2764.5">(3)是学生完全陌生的一类函数,对于这样的函</tspan><tspan x="354" dy="16.5">数应怎样进行较为系统的理论研究是学生面临</tspan><tspan x="354" dy="16.5">的重要问题,所以从的研究过程中得到相应的</tspan><tspan x="354" dy="16.5">结论固然重要,但更为重要的是要了解系统研</tspan><tspan x="354" dy="16.5">究一类函数的方法,所以在教学中要特别让学</tspan><tspan x="354" dy="16.5">生去体会研究的方法,以便能将其迁移到其他</tspan><tspan x="354" dy="16.5">函数的研究.</tspan></text></g>
<g id="h4d1"><rect class="y" x="260" y="2796" width="62" height="28" rx="5"/><text class="t c" x="291" y="2814.5">教法建议</text></g>
<g id="h4e"><rect class="y" x="347" y="2902" width="267" height="62" rx="5"/><text class="t"><tspan x="354" y="2920.5">(1)关于的定义按照课本上说法它是一种形式</tspan><tspan x="354" dy="16.5">定义即解析式的特征必须是的样子,不能有一</tspan><tspan x="354" dy="16.5">点差异,诸如,等都不是.</tspan></text></g>
<g id="h4f"><rect class="y" x="347" y="2992" width="267" height="128" rx="5"/><text class="t"><tspan x="354" y="3010.5">(2)对底数的限制条件的理解与认识也是认识</tspan><tspan x="354" dy="16.5">的重要内容.如果有可能尽量让学生自己去研</tspan><tspan x="354" dy="16.5">究对底数,指数都有什么限制要求,教师再给予</tspan><tspan x="354" dy="16.5">补充或用具体例子加以说明,因为对这个条件</tspan><tspan x="354" dy="16.5">的认识不仅关系到对的认识及性质的分类讨论</tspan><tspan x="354" dy="16.5">,还关系到后面学习对数函数中底数的认识,所</tspan><tspan x="354" dy="16.5">以一定要真正了解它的由来.</tspan></text></g>
<g id="h4f1"><rect class="y" x="55" y="2992" width="267" height="128" rx="5"/><text class="t"><tspan x="62" y="3010.5">关于图象的绘制,虽然是用列表描点法,但在具</tspan><tspan x="62" dy="16.5">体教学中应避免描点前的盲目列表计算,也应</tspan><tspan x="62" dy="16.5">避免盲目的连点成线,要把表列在关键之处,要</tspan><tspan x="62" dy="16.5">把点连在恰当之处,所以应在列表描点前先把</tspan><tspan x="62" dy="16.5">函数的性质作一些简单的讨论,取得对要画图</tspan><tspan x="62" dy="16.5">象的存在范围,大致特征,变化趋势的大概认识</tspan><tspan x="62" dy="16.5">后,以此为指导再列表计算,描点得图象.</tspan></text></g>

<g id="i1"><rect class="b" x="819" y="4107" width="88" height="28" rx="5"/><text class="t c" x="863" y="4125.5">一、教学过程</text></g>
<g id="i1a"><rect class="b" x="746" y="3187" width="47" height="28" rx="5"/><text class="t c" x="769.5" y="3205.5">1.复习</text></g>
<g id="i1a1"><rect class="b" x="453" y="3146" width="268" height="45.5" rx="5"/><text class="t"><tspan x="460" y="3164.5">反函数的概念、反函数求法、互为反函数的函</tspan><tspan x="460" dy="16.5">数定义域值域的关系。</tspan></text></g>
<g id="i1a2"><rect class="b" x="564" y="3219" width="157" height="28" rx="5"/><text class="t c" x="642.5" y="3237.5">求出函数y=x3的反函数。</text></g>
<g id="i1b"><rect class="b" x="746" y="5026" width="47" height="28" rx="5"/><text class="t c" x="769.5" y="5044.5">2.新课</text></g>
<g id="j0"><rect class="b" x="453" y="4387" width="268" height="78.5" rx="5"/><text class="t"><tspan x="460" y="4405.5">先让学生用几何画板画出y=x3的图象，学生</tspan><tspan x="460" dy="16.5">纷纷动手，很快画出了函数的图象。有部分学</tspan><tspan x="460" dy="16.5">生发出了"咦"的一声，因为他们得到了如下的</tspan><tspan x="460" dy="16.5">图象：</tspan></text></g>
<g id="ja"><rect class="b" x="162" y="3276" width="267" height="62" rx="5"/><text class="t"><tspan x="169" y="3294.5">教师在画出上述图象的学生中选定生1，将他</tspan><tspan x="169" dy="16.5">的屏幕内容通过教学系统放到其他同学的屏幕</tspan><tspan x="169" dy="16.5">上，很快有学生作出反应。</tspan></text></g>
<g id="jb"><rect class="b" x="210" y="3365" width="219" height="28" rx="5"/><text class="t c" x="319.5" y="3383.5">生2：这是y=x3的反函数y=的图象。</text></g>
<g id="jc"><rect class="b" x="162" y="3421" width="267" height="45.5" rx="5"/><text class="t"><tspan x="169" y="3439.5">师：对，但是怎么会得到这个图象，请大家讨</tspan><tspan x="169" dy="16.5">论。</tspan></text></g>
<g id="jd"><rect class="b" x="229" y="3495" width="200" height="28" rx="5"/><text class="t c" x="329" y="3513.5">(学生展开讨论，但找不出原因。)</text></g>
<g id="je"><rect class="b" x="162" y="3551" width="267" height="45.5" rx="5"/><text class="t"><tspan x="169" y="3569.5">师：我们请生1再给大家演示一下，大家帮他</tspan><tspan x="169" dy="16.5">找找原因。</tspan></text></g>
<g id="jf"><rect class="b" x="196" y="3625" width="233" height="28" rx="5"/><text class="t c" x="312.5" y="3643.5">(生1将他的制作过程重新重复了一次。)</text></g>
<g id="jg"><rect class="b" x="217" y="3681" width="212" height="28" rx="5"/><text class="t c" x="323" y="3699.5">生3：问题出在他选择的次序不对。</text></g>
<g id="jh"><rect class="b" x="334" y="3738" width="95" height="28" rx="5"/><text class="t c" x="381.5" y="3756.5">师：哪个次序?</text></g>
<g id="ji"><rect class="b" x="162" y="3795" width="267" height="62" rx="5"/><text class="t"><tspan x="169" y="3813.5">生3：作点B前，选择xA和xA3为B的坐标时，</tspan><tspan x="169" dy="16.5">他先选择xA3，后选择xA，作出来的点的坐</tspan><tspan x="169" dy="16.5">标为(xA3，xA)，而不是(xA，xA3)。</tspan></text></g>
<g id="jj"><rect class="b" x="211" y="3884" width="218" height="28" rx="5"/><text class="t c" x="320" y="3902.5">师：是这样吗?我们请生1再做一次。</text></g>
<g id="jk"><rect class="b" x="162" y="3940" width="267" height="45.5" rx="5"/><text class="t"><tspan x="169" y="3958.5">(这次生1在做的过程当中，按xA、xA3的次序</tspan><tspan x="169" dy="16.5">选择，果然得到函数y=x3的图象。)</tspan></text></g>
<g id="jl"><rect class="b" x="162" y="4013" width="267" height="62" rx="5"/><text class="t"><tspan x="169" y="4031.5">师：看来问题确实是出在这个地方，那么请同</tspan><tspan x="169" dy="16.5">学再想想，为什么他采用了错误的次序后，恰</tspan><tspan x="169" dy="16.5">好得到了y=x3的反函数y=的图象呢?</tspan></text></g>
<g id="jm"><rect class="b" x="178" y="4103" width="251" height="28" rx="5"/><text class="t c" x="303.5" y="4121.5">(学生再次陷入思考，一会儿有学生举手。)</text></g>
<g id="jn"><rect class="b" x="256" y="4160" width="173" height="28" rx="5"/><text class="t c" x="342.5" y="4178.5">师：我们请生4来告诉大家。</text></g>
<g id="jo"><rect class="b" x="162" y="4216" width="267" height="62" rx="5"/><text class="t"><tspan x="169" y="4234.5">生4：因为他这样做，正好是将y=x3上的点B(</tspan><tspan x="169" dy="16.5">x，y)的横坐标x与纵坐标y交换，而y=x3的反</tspan><tspan x="169" dy="16.5">函数也正好是将x与y交换。</tspan></text></g>
<g id="jp"><rect class="b" x="162" y="4305" width="267" height="62" rx="5"/><text class="t"><tspan x="169" y="4323.5">师：完全正确。下面我们进一步研究y=x3的</tspan><tspan x="169" dy="16.5">图象及其反函数y=的图象的关系，同学们能</tspan><tspan x="169" dy="16.5">不能看出这两个函数的图象有什么样的关系?</tspan></text></g>
<g id="jq"><rect class="b" x="162" y="4395" width="267" height="45.5" rx="5"/><text class="t"><tspan x="169" y="4413.5">(多数学生回答可由y=x3的图象得到y=的图象</tspan><tspan x="169" dy="16.5">，于是教师进一步追问。)</tspan></text></g>
<g id="jr"><rect class="b" x="198" y="4468" width="231" height="28" rx="5"/><text class="t c" x="313.5" y="4486.5">师：怎么由y=x3的图象得到y=的图象?</text></g>
<g id="js"><rect class="b" x="162" y="4524" width="267" height="45.5" rx="5"/><text class="t"><tspan x="169" y="4542.5">生5：将y=x3的图象上点的横坐标与纵坐标交</tspan><tspan x="169" dy="16.5">换，可得到y=的图象。</tspan></text></g>
<g id="jt"><rect class="b" x="213" y="4598" width="216" height="28" rx="5"/><text class="t c" x="321" y="4616.5">师：将横坐标与纵坐标互换?怎么换?</text></g>
<g id="ju"><rect class="b" x="162" y="4654" width="267" height="45.5" rx="5"/><text class="t"><tspan x="169" y="4672.5">(学生一时未能明白教师的意思，场面一下子</tspan><tspan x="169" dy="16.5">冷了下来，教师不得不将问题进一步明确。)</tspan></text></g>
<g id="jv"><rect class="b" x="162" y="4727" width="267" height="45.5" rx="5"/><text class="t"><tspan x="169" y="4745.5">师：我其实是想问大家这两个函数的图象有没</tspan><tspan x="169" dy="16.5">有对称关系，有的话，是什么样的对称关系?</tspan></text></g>
<g id="jw"><rect class="b" x="162" y="4800" width="267" height="45.5" rx="5"/><text class="t"><tspan x="169" y="4818.5">(学生重新开始观察这两个函数的图象，一会</tspan><tspan x="169" dy="16.5">儿有学生举手。)</tspan></text></g>
<g id="jx"><rect class="b" x="162" y="4873" width="267" height="45.5" rx="5"/><text class="t"><tspan x="169" y="4891.5">生6：我发现这两个图象应是关于某条直线对</tspan><tspan x="169" dy="16.5">称。</tspan></text></g>
<g id="jy"><rect class="b" x="219" y="4946" width="210" height="28" rx="5"/><text class="t c" x="324" y="4964.5">师：能说说是关于哪条直线对称吗?</text></g>
<g id="jz"><rect class="b" x="294" y="5003" width="135" height="28" rx="5"/><text class="t c" x="361.5" y="5021.5">生6：我还没找出来。</text></g>
<g id="jaa"><rect class="b" x="162" y="5059" width="267" height="62" rx="5"/><text class="t"><tspan x="169" y="5077.5">(接下来，教师引导学生利用几何画板找出两</tspan><tspan x="169" dy="16.5">函数图象的对称轴，画出如下图形，如图2所</tspan><tspan x="169" dy="16.5">示：)</tspan></text></g>
<g id="jbb"><rect class="b" x="162" y="5148" width="267" height="78.5" rx="5"/><text class="t"><tspan x="169" y="5166.5">学生通过移动点A(点B、C随之移动)后发现，</tspan><tspan x="169" dy="16.5">BC的中点M在同一条直线上，这条直线就是</tspan><tspan x="169" dy="16.5">两函数图象的对称轴，在追踪M点后，发现中</tspan><tspan x="169" dy="16.5">点的轨迹是直线y=x。</tspan></text></g>
<g id="jcc"><rect class="b" x="162" y="5254" width="267" height="45.5" rx="5"/><text class="t"><tspan x="169" y="5272.5">生7：y=x3的图象及其反函数y=的图象关于</tspan><tspan x="169" dy="16.5">直线y=x对称。</tspan></text></g>
<g id="jdd"><rect class="b" x="162" y="5327" width="267" height="62" rx="5"/><text class="t"><tspan x="169" y="5345.5">师：这个结论有一般性吗?其他函数及其反函</tspan><tspan x="169" dy="16.5">数的图象，也有这种对称关系吗?请同学们用</tspan><tspan x="169" dy="16.5">其他函数来试一试。</tspan></text></g>
<g id="jee"><rect class="b" x="162" y="5417" width="267" height="62" rx="5"/><text class="t"><tspan x="169" y="5435.5">(学生纷纷画出其他函数与其反函数的图象进</tspan><tspan x="169" dy="16.5">行验证，最后大家一致得出结论：函数及其反</tspan><tspan x="169" dy="16.5">函数的图象关于直线y=x对称。)</tspan></text></g>
<g id="jff"><rect class="b" x="162" y="5507" width="267" height="78.5" rx="5"/><text class="t"><tspan x="169" y="5525.5">教师巡视全班时已经发现这个问题，将这个图</tspan><tspan x="169" dy="16.5">象传给全班学生后，几乎所有人都看出了问题</tspan><tspan x="169" dy="16.5">所在：图中函数y=x2(x∈R)没有反函数，②</tspan><tspan x="169" dy="16.5">也不是函数的图象。</tspan></text></g>
<g id="j1"><rect class="b" x="555" y="5641" width="166" height="28" rx="5"/><text class="t c" x="638" y="5659.5">最后教师与学生一起总结:</text></g>
<g id="j1a"><rect class="b" x="309" y="5613" width="222" height="28" rx="5"/><text class="t c" x="420" y="5631.5">点(x，y)与点(y，x)关于直线y=x对称;</text></g>
<g id="j1b"><rect class="b" x="279" y="5669" width="252" height="28" rx="5"/><text class="t c" x="405" y="5687.5">函数及其反函数的图象关于直线y=x对称。</text></g>
<g id="i2"><rect class="b" x="806" y="6078" width="101" height="28" rx="5"/><text class="t c" x="856.5" y="6096.5">二、反思与点评</text></g>
<g id="i2a"><rect class="b" x="513" y="5727" width="268" height="144.5" rx="5"/><text class="t"><tspan x="520" y="5745.5">1.在开学初，我就教学几何画板4。0的用法，</tspan><tspan x="520" dy="16.5">在教函数图象画法的过程当中，发现学生根据</tspan><tspan x="520" dy="16.5">选定坐标作点时，不太注意选择横坐标与纵坐</tspan><tspan x="520" dy="16.5">标的顺序，本课设计起源于此。虽然几何画板</tspan><tspan x="520" dy="16.5">4。04中，能直接根据函数解析式画出图象，</tspan><tspan x="520" dy="16.5">但这样反而不能揭示图象对称的本质，所以本</tspan><tspan x="520" dy="16.5">节课教学中，我有意选择了几何画板4。0进</tspan><tspan x="520" dy="16.5">行教学。</tspan></text></g>
<g id="i2b"><rect class="b" x="513" y="6036" width="268" height="128" rx="5"/><text class="t"><tspan x="520" y="6054.5">2.荷兰数学教育家弗赖登塔尔认为，数学学习</tspan><tspan x="520" dy="16.5">过程当中，可借助于生动直观的形象来引导人</tspan><tspan x="520" dy="16.5">们的思想过程，但常常由于图形或想象的错误</tspan><tspan x="520" dy="16.5">，使人们的思维误入歧途，因此我们既要借助</tspan><tspan x="520" dy="16.5">直观，但又必须在一定条件下摆脱直观而形成</tspan><tspan x="520" dy="16.5">抽象概念，要注意过于直观的例子常常会影响</tspan><tspan x="520" dy="16.5">学生正确理解比较抽象的概念。</tspan></text></g>
<g id="i2b1"><rect class="b" x="221" y="5898" width="267" height="128" rx="5"/><text class="t"><tspan x="228" y="5916.5">计算机作为一种现代信息技术工具，在直观化</tspan><tspan x="228" dy="16.5">方面有很强的表现能力，如在函数的图象、图</tspan><tspan x="228" dy="16.5">形变换等方面，利用计算机都可得到其他直观</tspan><tspan x="228" dy="16.5">工具不可能有的效果;如果只是为了直观而使</tspan><tspan x="228" dy="16.5">用计算机，但不能达到更好地理解抽象概念，</tspan><tspan x="228" dy="16.5">促进学生思维的目的的话，这样的教学中，计</tspan><tspan x="228" dy="16.5">算机最多只是一种普通的直观工具而已。</tspan></text></g>
<g id="i2b2"><rect class="b" x="221" y="6052" width="267" height="95" rx="5"/><text class="t"><tspan x="228" y="6070.5">在本节课的教学中，计算机更多的是作为学生</tspan><tspan x="228" dy="16.5">探索发现的工具，学生不但发现了函数与其反</tspan><tspan x="228" dy="16.5">函数图象间的对称关系，而且在更深层次上理</tspan><tspan x="228" dy="16.5">解了反函数的概念，对反函数的存在性、反函</tspan><tspan x="228" dy="16.5">数的求法等方面也有了更深刻的理解。</tspan></text></g>
<g id="i2b3"><rect class="b" x="221" y="6174" width="267" height="128" rx="5"/><text class="t"><tspan x="228" y="6192.5">当前计算机用于中学数学的主要形式还是以辅</tspan><tspan x="228" dy="16.5">助为主，更多的是把计算机作为一种直观工具</tspan><tspan x="228" dy="16.5">，有时甚至只是作为电子黑板使用，今后的发</tspan><tspan x="228" dy="16.5">展方向应是：将计算机作为学生的认知工具，</tspan><tspan x="228" dy="16.5">让学生通过计算机发现探索，甚至利用计算机</tspan><tspan x="228" dy="16.5">来做数学，在此过程当中更好地理解数学概念</tspan><tspan x="228" dy="16.5">，促进数学思维，发展数学创新能力。</tspan></text></g>
<g id="i2c"><rect class="b" x="513" y="6331" width="268" height="111.5" rx="5"/><text class="t"><tspan x="520" y="6349.5">3.在引出两个函数图象对称关系的时候，问题</tspan><tspan x="520" dy="16.5">设计不甚妥当，本来是想要学生回答两个函数</tspan><tspan x="520" dy="16.5">图象对称的关系，但学生误以为是问如何由y</tspan><tspan x="520" dy="16.5">=x3的图象得到y=的图象，以致将学生引入</tspan><tspan x="520" dy="16.5">歧途。这样的问题在今后的教学中是必须力求</tspan><tspan x="520" dy="16.5">避免的。</tspan></text></g>
</g>
</svg>
